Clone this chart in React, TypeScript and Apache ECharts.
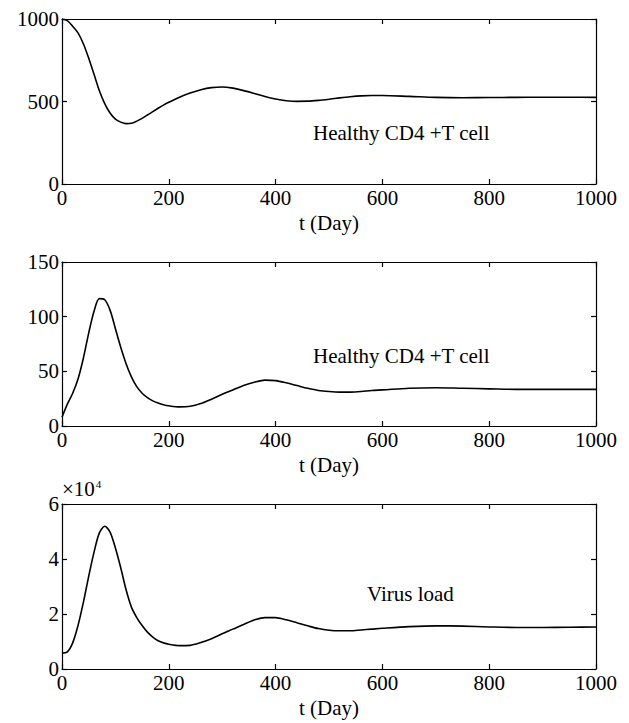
import React, { useEffect, useRef } from "react";
import * as echarts from "echarts";

const tDays = [
  0, 10, 20, 30, 40, 50, 60, 70, 80, 90, 100, 110, 120, 130, 140, 150, 160, 170, 180, 190, 200,
  220, 240, 260, 280, 300, 320, 340, 360, 380, 400, 420, 440, 460, 480, 500, 520, 540, 560, 580, 600,
  650, 700, 750, 800, 850, 900, 950, 1000,
];

const healthyT = [
  1000, 990, 956, 916, 850, 762, 665, 565, 487, 430, 393, 375, 366, 368, 381, 398, 418, 439, 459, 478, 495,
  526, 551, 571, 584, 588, 581, 566, 549, 530, 515, 505, 501, 502, 507, 514, 522, 529, 534, 536, 536,
  531, 525, 523, 524, 525, 526, 526, 525,
];

const infectedT = [
  8, 20, 30, 43, 62, 85, 105, 116.5, 115.5, 106, 89, 72, 57, 45, 36, 30, 26, 23, 21, 19.5, 18.5,
  17.5, 18, 20.5, 24.5, 29, 33, 37, 40, 42, 41.5, 39.5, 37, 34.5, 32.5, 31.5, 31, 31, 31.5, 32.5, 33,
  34.5, 35, 34.5, 34, 33.5, 33.5, 33.5, 33.5,
];

const virusLoad = [
  5800, 6200, 9500, 15800, 24200, 33700, 42500, 49500, 51900, 49800, 44000, 36800, 28800, 22500, 18700, 15800, 13400, 11600, 10300, 9500, 9000,
  8500, 8600, 9600, 11000, 12800, 14500, 16200, 17800, 18700, 18700, 17900, 16800, 15700, 14700, 14100, 13900, 13900, 14200, 14500, 14800,
  15400, 15700, 15600, 15300, 15100, 15100, 15200, 15300,
];

const xTicks = { min: 0, max: 1000, interval: 200 };
const yRanges = [
  { min: 0, max: 1000, interval: 500 },
  { min: 0, max: 150, interval: 50 },
  { min: 0, max: 60000, interval: 20000 },
];
const xName = "t (Day)";
const labels = ["Healthy CD4 +T cell", "Healthy CD4 +T cell", "Virus load"];

const FONT = "Liberation Serif, Times New Roman, serif";
const FS = 21;

export default function App() {
  const ref = useRef<HTMLDivElement>(null);
  useEffect(() => {
    if (!ref.current) return;
    const chart = echarts.init(ref.current, null, { renderer: "svg" });
    const grids = [
      { left: 62, top: 19, width: 534, height: 165 },
      { left: 62, top: 262, width: 534, height: 164 },
      { left: 62, top: 504, width: 534, height: 165 },
    ];
    const lineStyle = { color: "#000", width: 1.2 };
    const xAxes: any[] = [];
    const yAxes: any[] = [];
    grids.forEach((_, i) => {
      xAxes.push({
        type: "value",
        gridIndex: i,
        position: "bottom",
        ...xTicks,
        name: xName,
        nameLocation: "middle",
        nameGap: 28,
        nameTextStyle: { fontFamily: FONT, fontSize: FS, color: "#000" },
        axisLine: { show: true, onZero: false, lineStyle },
        axisTick: { show: true, inside: true, length: 5, lineStyle },
        axisLabel: { fontFamily: FONT, fontSize: FS, color: "#000", margin: 3, formatter: (v: number) => String(v) },
        splitLine: { show: false },
      });
      xAxes.push({
        type: "value",
        gridIndex: i,
        position: "top",
        ...xTicks,
        axisLine: { show: true, onZero: false, lineStyle },
        axisTick: { show: true, inside: true, length: 5, lineStyle },
        axisLabel: { show: false },
        splitLine: { show: false },
      });
      yAxes.push({
        type: "value",
        gridIndex: i,
        position: "left",
        ...yRanges[i],
        axisLine: { show: true, onZero: false, lineStyle },
        axisTick: { show: true, inside: true, length: 5, lineStyle },
        axisLabel: {
          fontFamily: FONT,
          fontSize: FS,
          color: "#000",
          margin: 3,
          formatter: (v: number) => String(i === 2 ? v / 10000 : v),
        },
        splitLine: { show: false },
      });
      yAxes.push({
        type: "value",
        gridIndex: i,
        position: "right",
        ...yRanges[i],
        axisLine: { show: true, onZero: false, lineStyle },
        axisTick: { show: true, inside: true, length: 5, lineStyle },
        axisLabel: { show: false },
        splitLine: { show: false },
      });
    });
    const seriesData = [healthyT, infectedT, virusLoad];
    const series = seriesData.map((vals, i) => ({
      type: "line",
      xAxisIndex: i * 2,
      yAxisIndex: i * 2,
      data: tDays.map((t, k) => [t, vals[k]]),
      smooth: 0.3,
      showSymbol: false,
      lineStyle: { color: "#000", width: 1.6 },
    }));
    chart.setOption({
      animation: false,
      backgroundColor: "#fff",
      grid: grids,
      xAxis: xAxes,
      yAxis: yAxes,
      series,
      graphic: [
        {
          type: "text",
          left: 313,
          top: 122,
          style: { text: labels[0], fontFamily: FONT, fontSize: FS, fill: "#000" },
        },
        {
          type: "text",
          left: 313,
          top: 345,
          style: { text: labels[1], fontFamily: FONT, fontSize: FS, fill: "#000" },
        },
        {
          type: "text",
          left: 367,
          top: 583,
          style: { text: labels[2], fontFamily: FONT, fontSize: FS, fill: "#000" },
        },
        {
          type: "text",
          left: 62,
          top: 478,
          style: {
            text: "{a|×10}{b|4}",
            rich: {
              a: { fontFamily: FONT, fontSize: FS, color: "#000", verticalAlign: "bottom" },
              b: { fontFamily: FONT, fontSize: 11, color: "#000", verticalAlign: "top", padding: [0, 0, 8, 1] },
            },
          },
        },
      ],
    });
    return () => chart.dispose();
  }, []);
  return (
    <div
      ref={ref}
      style={{ position: "absolute", left: 0, top: 0, width: 629, height: 723, background: "#fff" }}
    />
  );
}
